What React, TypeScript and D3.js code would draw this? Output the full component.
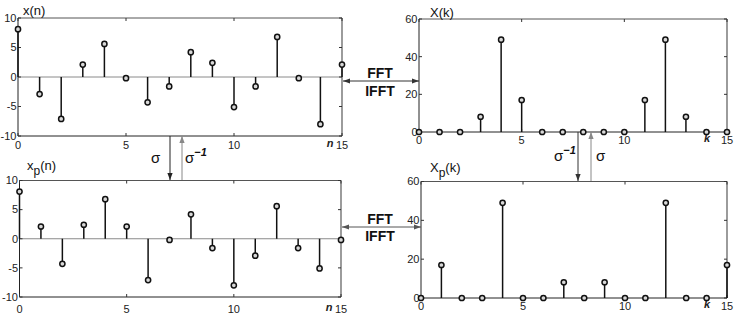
import React from "react";
import * as d3 from "d3";

const nIdx = d3.range(16);
const xn = [8.1, -2.9, -7.1, 2.1, 5.6, -0.2, -4.3, -1.6, 4.2, 2.4, -5.1, -1.6, 6.8, -0.2, -8.0, 2.1];
const xpn = [8.1, 2.1, -4.3, 2.4, 6.8, 2.1, -7.1, -0.2, 4.2, -1.6, -8.0, -2.9, 5.6, -1.6, -5.1, -0.2];
const Xk = [0, 0, 0, 8.1, 49, 17, 0, 0, 0, 0, 0, 17, 49, 8.1, 0, 0];
const Xpk = [0, 17, 0, 0, 49, 0, 0, 8.1, 0, 8.1, 0, 0, 49, 0, 0, 17];
const xTicks = [0, 5, 10, 15];
const timeYTicks = [-10, -5, 0, 5, 10];
const freqYTicks = [0, 20, 40, 60];

const FONT = "'Liberation Sans', Arial, Helvetica, sans-serif";

type PanelProps = {
  values: number[];
  xRange: [number, number];
  yRange: [number, number];
  yDomain: [number, number];
  yTicks: number[];
  axisVar: string;
  xLabelDy: number;
  varDx: number;
};

function Panel({ values, xRange, yRange, yDomain, yTicks, axisVar, xLabelDy, varDx }: PanelProps) {
  const x = d3.scaleLinear().domain([0, 15]).range(xRange);
  const y = d3.scaleLinear().domain(yDomain).range(yRange);
  const [x0, x1] = xRange;
  const [yb, yt] = yRange;
  const tl = 3;
  return (
    <g>
      {yDomain[0] < 0 && (
        <line x1={x0} x2={x1} y1={y(0)} y2={y(0)} stroke="#8a8a8a" strokeWidth={1} />
      )}
      <line x1={x0} x2={x1} y1={yt} y2={yt} stroke="#555" strokeWidth={1} />
      <line x1={x1} x2={x1} y1={yt} y2={yb} stroke="#666" strokeWidth={1.3} />
      <line x1={x0} x2={x0} y1={yt} y2={yb} stroke="#222" strokeWidth={1} />
      <line x1={x0} x2={x1} y1={yb} y2={yb} stroke="#222" strokeWidth={1} />
      {xTicks.map((t) => (
        <g key={"xt" + t}>
          <line x1={x(t)} x2={x(t)} y1={yb} y2={yb - tl} stroke="#333" />
          <line x1={x(t)} x2={x(t)} y1={yt} y2={yt + tl} stroke="#333" />
        </g>
      ))}
      {yTicks.map((t) => (
        <g key={"yt" + t}>
          <line x1={x0} x2={x0 + tl} y1={y(t)} y2={y(t)} stroke="#333" />
          <line x1={x1} x2={x1 - tl} y1={y(t)} y2={y(t)} stroke="#333" />
          <text
            x={x0 - 1.5}
            y={y(t)}
            dy="0.35em"
            textAnchor="end"
            fontSize={11}
            fontFamily={FONT}
            fill="#222"
          >
            {t < 0 ? "-" + Math.abs(t) : t}
          </text>
        </g>
      ))}
      {xTicks.map((t) => (
        <text
          key={"xl" + t}
          x={x(t)}
          y={yb + xLabelDy}
          dy="0.35em"
          textAnchor="middle"
          fontSize={11}
          fontFamily={FONT}
          fill="#222"
        >
          {t}
        </text>
      ))}
      <text
        x={x(15) + varDx}
        y={yb + xLabelDy - 2}
        dy="0.35em"
        textAnchor="middle"
        fontSize={11}
        fontWeight="bold"
        fontStyle="italic"
        fontFamily={FONT}
        fill="#222"
      >
        {axisVar}
      </text>
      {nIdx.map((i) => (
        <line
          key={"s" + i}
          x1={x(i)}
          x2={x(i)}
          y1={y(Math.max(0, yDomain[0]))}
          y2={y(values[i])}
          stroke="#111"
          strokeWidth={1.5}
        />
      ))}
      {nIdx.map((i) => (
        <circle
          key={"m" + i}
          cx={x(i)}
          cy={y(values[i])}
          r={2.6}
          fill="#d8d8d8"
          stroke="#111"
          strokeWidth={1.5}
        />
      ))}
    </g>
  );
}

function Arrow({ x1, y1, x2, y2, color, head1 = false, head2 = true }: any) {
  const ang = Math.atan2(y2 - y1, x2 - x1);
  const L = 7;
  const W = 2.6;
  const headAt = (px: number, py: number, a: number) => {
    const bx = px - L * Math.cos(a);
    const by = py - L * Math.sin(a);
    const nx = -Math.sin(a) * W;
    const ny = Math.cos(a) * W;
    return `M${px},${py}L${bx + nx},${by + ny}L${bx - nx},${by - ny}Z`;
  };
  return (
    <g>
      <line x1={x1} y1={y1} x2={x2} y2={y2} stroke={color} strokeWidth={1} />
      {head2 && <path d={headAt(x2, y2, ang)} fill={color} />}
      {head1 && <path d={headAt(x1, y1, ang + Math.PI)} fill={color} />}
    </g>
  );
}

function Sigma({ x, y, inv }: { x: number; y: number; inv: boolean }) {
  return (
    <text x={x} y={y} fontSize={15} fontFamily={FONT} fill="#111">
      σ
      {inv && (
        <tspan dy={-7} fontSize={11} fontWeight="bold" fontStyle="italic">
          −1
        </tspan>
      )}
    </text>
  );
}

export default function App() {
  return (
    <svg
      width={734}
      height={316}
      style={{ position: "absolute", left: 0, top: 0, background: "#fff" }}
    >
      <Panel
        values={xn}
        xRange={[18, 342]}
        yRange={[136, 18]}
        yDomain={[-10, 10]}
        yTicks={timeYTicks}
        axisVar="n"
        xLabelDy={9}
        varDx={-12}
      />
      <Panel
        values={Xk}
        xRange={[419, 727]}
        yRange={[132, 19]}
        yDomain={[0, 60]}
        yTicks={freqYTicks}
        axisVar="k"
        xLabelDy={8}
        varDx={-20}
      />
      <Panel
        values={xpn}
        xRange={[19.5, 341]}
        yRange={[297, 180.5]}
        yDomain={[-10, 10]}
        yTicks={timeYTicks}
        axisVar="n"
        xLabelDy={12}
        varDx={-12}
      />
      <Panel
        values={Xpk}
        xRange={[421, 727]}
        yRange={[298, 181.5]}
        yDomain={[0, 60]}
        yTicks={freqYTicks}
        axisVar="k"
        xLabelDy={8}
        varDx={-20}
      />

      <text x={23} y={15} fontSize={13} fontFamily={FONT} fill="#111">x(n)</text>
      <text x={430} y={17} fontSize={13} fontFamily={FONT} fill="#111">X(k)</text>
      <text x={27} y={170} fontSize={13} fontFamily={FONT} fill="#111">
        x<tspan dy={5} fontSize={12}>p</tspan><tspan dy={-5}>(n)</tspan>
      </text>
      <text x={430} y={172} fontSize={13} fontFamily={FONT} fill="#111">
        X<tspan dy={5} fontSize={12}>p</tspan><tspan dy={-5}>(k)</tspan>
      </text>

      <Arrow x1={343} y1={81} x2={419} y2={81} color="#333" head1 head2 />
      <text x={380} y={78} textAnchor="middle" fontSize={14} fontWeight="bold" fontFamily={FONT} fill="#111">FFT</text>
      <text x={380} y={96} textAnchor="middle" fontSize={14} fontWeight="bold" fontFamily={FONT} fill="#111">IFFT</text>

      <Arrow x1={342} y1={227} x2={421} y2={227} color="#555" head1 head2 />
      <text x={380} y={224} textAnchor="middle" fontSize={14} fontWeight="bold" fontFamily={FONT} fill="#111">FFT</text>
      <text x={380} y={241} textAnchor="middle" fontSize={14} fontWeight="bold" fontFamily={FONT} fill="#111">IFFT</text>

      <Arrow x1={170} y1={136} x2={170} y2={180} color="#222" />
      <Arrow x1={182} y1={180} x2={182} y2={136} color="#888" />
      <Sigma x={151} y={163} inv={false} />
      <Sigma x={185} y={163} inv={true} />

      <Arrow x1={578} y1={132} x2={578} y2={181} color="#333" />
      <Arrow x1={591} y1={181} x2={591} y2={132} color="#888" />
      <Sigma x={554} y={161} inv={true} />
      <Sigma x={596} y={161} inv={false} />
    </svg>
  );
}
